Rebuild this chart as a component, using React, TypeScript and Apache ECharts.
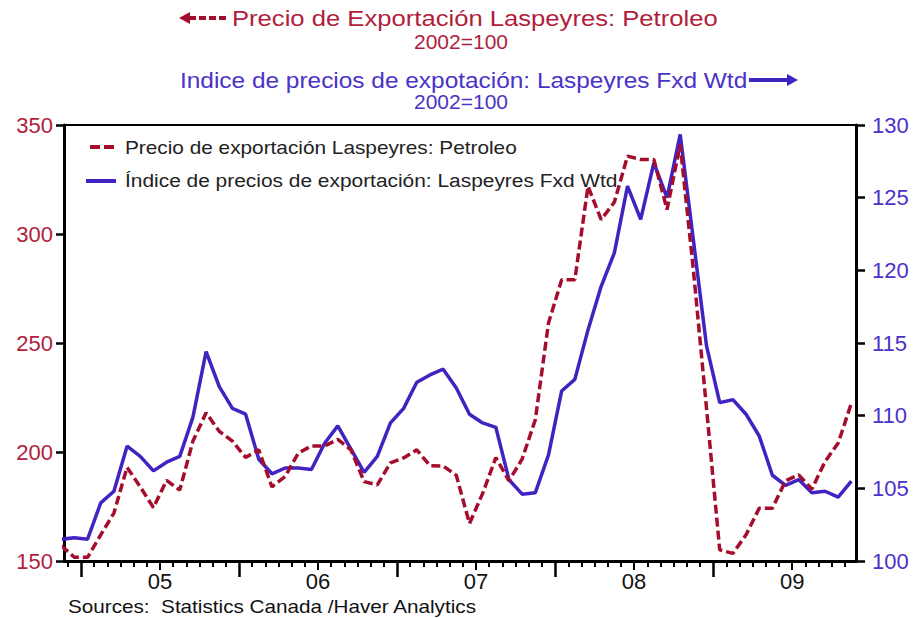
import React, { useEffect, useRef } from "react";
import * as echarts from "echarts";

// Monthly observations, Nov 2004 .. Nov 2009
const months = [
  "2004-11", "2004-12",
  "2005-01", "2005-02", "2005-03", "2005-04", "2005-05", "2005-06", "2005-07", "2005-08", "2005-09", "2005-10", "2005-11", "2005-12",
  "2006-01", "2006-02", "2006-03", "2006-04", "2006-05", "2006-06", "2006-07", "2006-08", "2006-09", "2006-10", "2006-11", "2006-12",
  "2007-01", "2007-02", "2007-03", "2007-04", "2007-05", "2007-06", "2007-07", "2007-08", "2007-09", "2007-10", "2007-11", "2007-12",
  "2008-01", "2008-02", "2008-03", "2008-04", "2008-05", "2008-06", "2008-07", "2008-08", "2008-09", "2008-10", "2008-11", "2008-12",
  "2009-01", "2009-02", "2009-03", "2009-04", "2009-05", "2009-06", "2009-07", "2009-08", "2009-09", "2009-10", "2009-11",
];

// Precio de exportación Laspeyres: Petroleo (left axis)
const petroleo = [
  157, 151.7,
  151.7, 162, 172, 193, 184, 174.5, 187, 182.5, 205, 218, 209.5, 205,
  197.5, 201, 184, 188.7, 199.5, 202.8, 202.8, 205.8, 201, 186.4, 184.9, 195,
  197.3, 201, 193.7, 193.6, 189.3, 167.2, 181, 197.4, 186.8, 196.8, 214.8, 259.2,
  279, 279, 321.9, 306.6, 314.6, 335.7, 334.2, 334.2, 311.2, 341, 283.6, 220,
  155.1, 153.5, 162, 174.2, 174.2, 186.8, 189.5, 183, 195.6, 204.1, 222.4,
];

// Índice de precios de exportación: Laspeyres Fxd Wtd (right axis)
const indice = [
  101.5, 101.6,
  101.5, 104.0, 104.8, 107.9, 107.2, 106.2, 106.8, 107.2, 109.9, 114.4, 112.0, 110.5,
  110.1, 107.0, 106.0, 106.4, 106.4, 106.3, 108.1, 109.3, 107.7, 106.1, 107.2, 109.5,
  110.5, 112.3, 112.8, 113.2, 111.9, 110.1, 109.5, 109.2, 105.6, 104.6, 104.7, 107.3,
  111.7, 112.5, 115.9, 118.9, 121.2, 125.8, 123.5, 127.4, 125.0, 129.35, 122.1, 114.8,
  110.9, 111.1, 110.1, 108.6, 105.9, 105.2, 105.6, 104.7, 104.8, 104.4, 105.5,
];

const leftTicks = [150, 200, 250, 300, 350];
const rightTicks = [100, 105, 110, 115, 120, 125, 130];
const yearLabels = ["05", "06", "07", "08", "09"];

const NAME_RED = "Precio de exportación Laspeyres: Petroleo";
const NAME_BLUE = "Índice de precios de exportación: Laspeyres Fxd Wtd";

const RED = "#A50D2D";
const RED_TXT = "#B01E3C";
const BLUE = "#4222C0";
const BLUE_TXT = "#4A33C8";
const FONT = "Liberation Sans, Arial, sans-serif";

// time coordinate: months since 1 Jan 2005; monthly values sit mid-month
const toX = (m: string) => {
  const [y, mo] = m.split("-").map(Number);
  return (y - 2005) * 12 + (mo - 1) + 0.5;
};
const yearStart = yearLabels.map((_, k) => k * 12);
const midYear = yearLabels.map((_, k) => k * 12 + 6);
const monthBounds: number[] = [];
for (let v = -1; v <= 58; v++) {
  if (!yearStart.includes(v) && !midYear.includes(v)) monthBounds.push(v);
}
const X_MIN = -1.29;
const X_MAX = 58.85;

export default function App() {
  const ref = useRef<HTMLDivElement>(null);
  useEffect(() => {
    if (!ref.current) return;
    const chart = echarts.init(ref.current, null, { renderer: "svg" });
    const baseX = {
      type: "value",
      min: X_MIN,
      max: X_MAX,
      position: "bottom",
      splitLine: { show: false },
      axisLabel: { show: false },
    };
    chart.setOption({
      animation: false,
      backgroundColor: "#fff",
      grid: {
        left: 64,
        right: 59,
        top: 125,
        height: 436,
        show: true,
        borderColor: "#000",
        borderWidth: 2,
      },
      xAxis: [
        {
          ...baseX,
          axisLine: { show: true, onZero: false, lineStyle: { color: "#000", width: 3 } },
          axisTick: { show: true, customValues: monthBounds, length: 6, lineStyle: { color: "#000", width: 2 } },
        },
        {
          ...baseX,
          axisLine: { show: false, onZero: false },
          axisTick: { show: true, customValues: yearStart, length: 16, lineStyle: { color: "#000", width: 2.5 } },
        },
        {
          ...baseX,
          axisLine: { show: false, onZero: false },
          axisTick: { show: true, customValues: midYear, length: 9, lineStyle: { color: "#000", width: 2 } },
          axisLabel: {
            show: true,
            customValues: midYear,
            formatter: (v: number) => yearLabels[midYear.indexOf(Math.round(v))] ?? "",
            fontSize: 22,
            color: "#111",
            fontFamily: FONT,
            margin: 9,
          },
        },
      ],
      yAxis: [
        {
          type: "value",
          position: "left",
          min: leftTicks[0],
          max: leftTicks[leftTicks.length - 1],
          interval: 50,
          splitLine: { show: false },
          axisLine: { show: true, onZero: false, lineStyle: { color: "#000", width: 3 } },
          axisTick: { show: true, length: 8, lineStyle: { color: "#000", width: 2.5 } },
          axisLabel: { fontSize: 22, color: RED_TXT, fontFamily: FONT, margin: 11 },
        },
        {
          type: "value",
          position: "right",
          min: rightTicks[0],
          max: rightTicks[rightTicks.length - 1],
          interval: 5,
          splitLine: { show: false },
          axisLine: { show: true, onZero: false, lineStyle: { color: "#000", width: 3 } },
          axisTick: { show: true, length: 9, lineStyle: { color: "#000", width: 2.5 } },
          axisLabel: { fontSize: 22, color: BLUE_TXT, fontFamily: FONT, margin: 16 },
        },
      ],
      series: [
        {
          name: NAME_RED,
          type: "line",
          xAxisIndex: 0,
          yAxisIndex: 0,
          showSymbol: false,
          symbol: "none",
          z: 3,
          lineStyle: { color: RED, width: 3.5, type: [9, 4] },
          itemStyle: { color: RED },
          data: months.map((m, i) => [toX(m), petroleo[i]]),
        },
        {
          name: NAME_BLUE,
          type: "line",
          xAxisIndex: 0,
          yAxisIndex: 1,
          showSymbol: false,
          symbol: "none",
          z: 2,
          lineStyle: { color: BLUE, width: 3.5 },
          itemStyle: { color: BLUE },
          data: months.map((m, i) => [toX(m), indice[i]]),
        },
      ],
      graphic: [
        // red title with left arrow
        { type: "polygon", shape: { points: [[179, 18], [190, 12], [190, 24]] }, style: { fill: RED } },
        { type: "line", shape: { x1: 189, y1: 18, x2: 229, y2: 18 }, style: { stroke: RED, lineWidth: 4, lineDash: [7, 3] } },
        {
          type: "text", x: 232, y: 18, scaleX: 1.165,
          style: { text: "Precio de Exportación Laspeyres: Petroleo", font: `22px ${FONT}`, fill: RED_TXT, textAlign: "left", textVerticalAlign: "middle" },
        },
        {
          type: "text", x: 461, y: 42, scaleX: 1.05,
          style: { text: "2002=100", font: `20px ${FONT}`, fill: RED_TXT, textAlign: "center", textVerticalAlign: "middle" },
        },
        // blue title with right arrow
        {
          type: "text", x: 180, y: 80, scaleX: 1.11,
          style: { text: "Indice de precios de expotación: Laspeyres Fxd Wtd", font: `22px ${FONT}`, fill: BLUE_TXT, textAlign: "left", textVerticalAlign: "middle" },
        },
        { type: "line", shape: { x1: 749, y1: 80, x2: 789, y2: 80 }, style: { stroke: BLUE, lineWidth: 4 } },
        { type: "polygon", shape: { points: [[798, 80], [787, 74], [787, 86]] }, style: { fill: BLUE } },
        {
          type: "text", x: 461, y: 102, scaleX: 1.05,
          style: { text: "2002=100", font: `20px ${FONT}`, fill: BLUE_TXT, textAlign: "center", textVerticalAlign: "middle" },
        },
        // legend
        { type: "line", shape: { x1: 90, y1: 147, x2: 116, y2: 147 }, style: { stroke: RED, lineWidth: 4, lineDash: [10, 4] } },
        {
          type: "text", x: 125, y: 147, scaleX: 1.095,
          style: { text: NAME_RED, font: `19px ${FONT}`, fill: "#222", textAlign: "left", textVerticalAlign: "middle" },
        },
        { type: "line", shape: { x1: 86, y1: 181, x2: 116, y2: 181 }, style: { stroke: BLUE, lineWidth: 4 } },
        {
          type: "text", x: 125, y: 180, scaleX: 1.1,
          style: { text: NAME_BLUE, font: `19px ${FONT}`, fill: "#222", textAlign: "left", textVerticalAlign: "middle" },
        },
        // source
        {
          type: "text", x: 68, y: 607, scaleX: 1.15,
          style: { text: "Sources:  Statistics Canada /Haver Analytics", font: `18px ${FONT}`, fill: "#111", textAlign: "left", textVerticalAlign: "middle" },
        },
      ],
    });
    return () => chart.dispose();
  }, []);
  return <div ref={ref} style={{ position: "fixed", left: 0, top: 0, width: 915, height: 618 }} />;
}
